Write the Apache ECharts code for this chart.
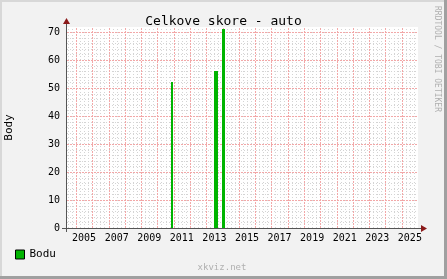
<!DOCTYPE html>
<html>
<head>
<meta charset="utf-8">
<script src="https://cdn.jsdelivr.net/npm/echarts@6/dist/echarts.min.js"></script>
<style>
  html, body { margin: 0; padding: 0; background: #f2f2f2; }
  #chart { width: 447px; height: 279px; }
</style>
</head>
<body>
<div id="chart"></div>
<script>
// ---- data ----
const seriesName = 'Bodu';
const barStart = [2010.85, 2013.45, 2013.96];
const barEnd   = [2010.97, 2013.74, 2014.14];
const barValue = [52.1, 56.0, 71.2];
const yearLabels = [2005, 2007, 2009, 2011, 2013, 2015, 2017, 2019, 2021, 2023, 2025];
const yTickLabels = [0, 10, 20, 30, 40, 50, 60, 70];
const majorYears = [2005, 2006, 2007, 2008, 2009, 2010, 2011, 2012, 2013, 2014, 2015,
                    2016, 2017, 2018, 2019, 2020, 2021, 2022, 2023, 2024, 2025];
const xMin = 2004.45, xMax = 2026.0;
const yMin = 0, yMax = 71.8;

// ---- layout ----
const G = { left: 67, right: 29, top: 27, bottom: 51 };
const W = 447, H = 279;
const plotR = W - G.right, plotB = H - G.bottom;

const mono = 'DejaVu Sans Mono';
const green = '#00b400';
const majorColor = 'rgb(242,168,168)';
const minorColor = 'rgb(212,212,212)';

// grid lines built from tick arrays: [value, isVertical, isMajor]
const gridData = [];
for (let y = 2; y < yMax; y += 2) gridData.push([y, 0, y % 10 === 0 ? 1 : 0]);
for (let q = Math.ceil(xMin * 4) / 4; q < xMax; q += 0.25) {
  if (!Number.isInteger(q)) gridData.push([q, 1, 0]);
}
majorYears.forEach(yr => gridData.push([yr, 1, 1]));

const barData = barStart.map((s, i) => [s, barEnd[i], barValue[i]]);

const chart = echarts.init(document.getElementById('chart'), null, { renderer: 'canvas' });
chart.setOption({
  backgroundColor: '#f2f2f2',
  animation: false,
  title: {
    text: 'Celkove skore - auto',
    left: 'center', top: 10,
    textStyle: { fontFamily: mono, fontSize: 13, fontWeight: 'normal', color: '#000' }
  },
  legend: {
    left: 15, top: 249, padding: 0,
    itemWidth: 9, itemHeight: 9, itemGap: 10,
    textStyle: { fontFamily: mono, fontSize: 11, color: '#000' },
    data: [{ name: seriesName, icon: 'rect', itemStyle: { color: green, borderColor: '#000', borderWidth: 1 } }]
  },
  grid: {
    left: G.left, right: G.right, top: G.top, bottom: G.bottom,
    containLabel: false, outerBoundsMode: 'none',
    show: true, backgroundColor: '#ffffff', borderWidth: 0
  },
  xAxis: {
    type: 'value', min: xMin, max: xMax,
    axisLine: { show: false },
    axisTick: { show: false },
    splitLine: { show: false },
    axisLabel: {
      customValues: yearLabels.map(y => y + 0.5),
      formatter: v => String(Math.floor(v)),
      fontFamily: mono, fontSize: 10, color: '#000', margin: 5
    }
  },
  yAxis: {
    type: 'value', min: yMin, max: yMax,
    name: 'Body', nameLocation: 'middle', nameGap: 52, nameRotate: 90,
    nameTextStyle: { fontFamily: mono, fontSize: 11, color: '#000' },
    axisLine: { show: false },
    axisTick: { show: false },
    splitLine: { show: false },
    axisLabel: {
      customValues: yTickLabels,
      fontFamily: mono, fontSize: 10, color: '#000', margin: 7
    }
  },
  series: [
    {
      type: 'custom', silent: true, z: 1,
      dimensions: ['v', 'vert', 'major'],
      encode: { x: 0 },
      data: gridData,
      renderItem: (params, api) => {
        const v = api.value(0), vert = api.value(1), major = api.value(2);
        let x1, y1, x2, y2;
        if (vert) {
          const a = api.coord([v, yMin]), b = api.coord([v, yMax]);
          x1 = x2 = Math.round(a[0]) + 0.5; y1 = a[1]; y2 = b[1];
        } else {
          const a = api.coord([xMin, v]), b = api.coord([xMax, v]);
          y1 = y2 = Math.round(a[1]) + 0.5; x1 = a[0]; x2 = b[0];
        }
        return {
          type: 'line', z2: major ? 2 : 1,
          shape: { x1, y1, x2, y2 },
          style: { stroke: major ? majorColor : minorColor, fill: null, lineWidth: 1, lineDash: major ? [2, 1] : [1, 2], opacity: 1 }
        };
      }
    },
    {
      name: seriesName,
      type: 'custom', z: 10,
      itemStyle: { color: green },
      encode: { x: [0, 1], y: 2 },
      data: barData,
      renderItem: (params, api) => {
        const p0 = api.coord([api.value(0), api.value(2)]);
        const p1 = api.coord([api.value(1), 0]);
        const x0 = Math.round(p0[0]), x1 = Math.max(Math.round(p1[0]), x0 + 1);
        const y0 = Math.round(p0[1]), y1 = Math.round(p1[1]);
        return {
          type: 'rect',
          shape: { x: x0, y: y0, width: x1 - x0, height: y1 - y0 },
          style: { fill: green }
        };
      }
    }
  ],
  graphic: [
    // axes + arrows
    { type: 'line', shape: { x1: G.left - 5, y1: plotB + 0.5, x2: plotR + 4, y2: plotB + 0.5 }, style: { stroke: '#555', lineWidth: 1 }, z: 10 },
    { type: 'line', shape: { x1: G.left - 0.5, y1: plotB + 4, x2: G.left - 0.5, y2: G.top - 4 }, style: { stroke: '#555', lineWidth: 1 }, z: 10 },
    { type: 'polygon', shape: { points: [[plotR + 3, plotB - 3], [plotR + 9, plotB + 0.5], [plotR + 3, plotB + 4]] }, style: { fill: '#8b1a1a' }, z: 11 },
    { type: 'polygon', shape: { points: [[G.left - 4, G.top - 3], [G.left - 0.5, G.top - 9], [G.left + 3, G.top - 3]] }, style: { fill: '#8b1a1a' }, z: 11 },
    // watermark texts
    { type: 'text', x: 222, y: 268, style: { text: 'xkviz.net', font: '9px ' + mono, fill: '#b0b0b0', align: 'center', verticalAlign: 'middle' }, z: 10 },
    { type: 'text', x: 437, y: 59, rotation: -Math.PI / 2, style: { text: 'RRDTOOL / TOBI OETIKER', font: '8px ' + mono, fill: '#b0b0b0', align: 'center', verticalAlign: 'middle' }, z: 10 },
    // frame shading
    { type: 'rect', shape: { x: 444, y: 0, width: 3, height: H }, style: { fill: '#a0a0a0' }, z: 12 },
    { type: 'rect', shape: { x: 0, y: 276, width: W, height: 3 }, style: { fill: '#a0a0a0' }, z: 12 },
    { type: 'rect', shape: { x: 0, y: 0, width: 2, height: 276 }, style: { fill: '#d8d8d8' }, z: 12 },
    { type: 'rect', shape: { x: 0, y: 0, width: 444, height: 2 }, style: { fill: '#d8d8d8' }, z: 12 }
  ]
});
</script>
</body>
</html>
